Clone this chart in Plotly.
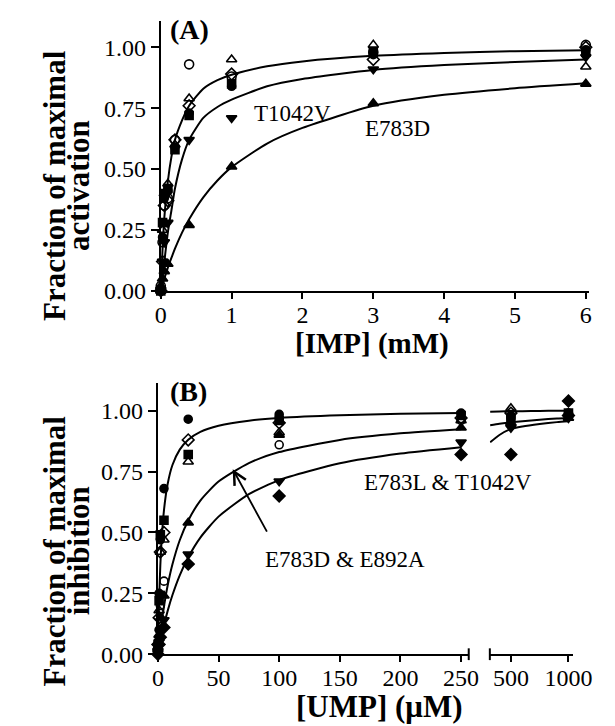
import plotly.graph_objects as go

W, H = 615, 726
FONT = '"Liberation Serif", "Times New Roman", Times, serif'

# ---------------- Panel A data (IMP, mM) ----------------
a_x = [0, 0.025, 0.05, 0.1, 0.2, 0.4, 1, 3, 6]
a_open_circle = [0.02, 0.20, 0.35, 0.38, 0.62, 0.93, 0.88, 0.98, 1.01]
a_open_tri = [0.00, 0.25, 0.40, 0.44, 0.60, 0.79, 0.95, 1.01, 0.92]
a_open_diam = [0.00, 0.12, 0.35, 0.37, 0.62, 0.76, 0.89, 0.95, 1.00]
a_fill_square = [0.00, 0.28, 0.40, 0.42, 0.58, 0.72, 0.85, 0.98, 0.98]
a_fill_circle = [0.00, 0.22, 0.38, 0.41, 0.59, 0.73, 0.84, 0.97, 0.99]
a_x2 = [0, 0.025, 0.05, 0.1, 0.4, 1, 3, 6]
a_t1042v = [0.00, 0.12, 0.20, 0.28, 0.62, 0.71, 0.91, 0.96]
a_e783d = [0.02, 0.05, 0.08, 0.11, 0.27, 0.51, 0.77, 0.85]

a_curve_x = [0, 0.025, 0.05, 0.1, 0.15, 0.2, 0.3, 0.4, 0.6, 0.8, 1, 1.5, 2, 3, 4, 5, 6]
a_curve_top = [0, 0.17, 0.30, 0.45, 0.55, 0.62, 0.70, 0.76, 0.83, 0.865, 0.887, 0.922, 0.942, 0.965, 0.977, 0.984, 0.988]
a_curve_mid = [0, 0.06, 0.12, 0.24, 0.33, 0.42, 0.54, 0.62, 0.71, 0.755, 0.785, 0.84, 0.87, 0.907, 0.927, 0.94, 0.95]
a_curve_low = [0, 0.025, 0.05, 0.095, 0.135, 0.173, 0.239, 0.294, 0.384, 0.453, 0.508, 0.605, 0.669, 0.76, 0.805, 0.832, 0.852]

# ---------------- Panel B data (UMP, uM) ----------------
b_x = [0, 1, 2, 5, 25, 100, 250, 500, 1000]
b_fill_circle = [0.05, 0.25, 0.47, 0.68, 0.965, 0.985, 0.99, 0.98, 0.99]
b_open_diam = [0.04, 0.15, 0.42, 0.50, 0.88, 0.95, 0.97, 0.99, 0.98]
b_fill_square = [0.02, 0.22, 0.49, 0.55, 0.82, 0.96, 0.98, 0.97, 0.99]
b_open_tri = [0.03, 0.18, 0.42, 0.47, 0.79, 0.91, 0.96, 1.01, 0.99]
b_fill_tri = [0.02, 0.08, 0.15, 0.24, 0.54, 0.90, 0.93, 0.95, 0.97]
b_fill_tri_down = [0.01, 0.05, 0.09, 0.14, 0.41, 0.71, 0.87, 0.93, 0.97]
b_fill_diam = [0.00, 0.04, 0.07, 0.11, 0.37, 0.65, 0.82, 0.82, 1.04]
b_x_oc = [0, 1, 2, 5, 100, 250, 500, 1000]
b_open_circle = [0.02, 0.10, 0.20, 0.30, 0.86, 0.96, 0.97, 0.98]

b_curve_x = [0, 1, 2, 3, 5, 8, 12, 18, 25, 35, 50, 75, 100, 150, 200, 250]
b_curve_top = [0, 0.223, 0.365, 0.463, 0.591, 0.698, 0.777, 0.840, 0.881, 0.913, 0.938, 0.959, 0.970, 0.981, 0.987, 0.990]
b_curve_mid = [0, 0.047, 0.089, 0.128, 0.196, 0.281, 0.369, 0.468, 0.549, 0.631, 0.709, 0.785, 0.830, 0.880, 0.907, 0.924]
b_curve_low = [0, 0.026, 0.051, 0.075, 0.119, 0.177, 0.243, 0.324, 0.398, 0.479, 0.565, 0.657, 0.715, 0.784, 0.824, 0.850]
b_curve2_x = [320, 400, 500, 600, 750, 900, 1000]
b_curve2_top = [0.996, 0.997, 0.998, 0.998, 0.999, 1.0, 1.0]
b_curve2_mid = [0.94, 0.946, 0.952, 0.957, 0.963, 0.968, 0.97]
b_curve2_low = [0.87, 0.90, 0.925, 0.935, 0.945, 0.953, 0.957]

fig = go.Figure()


def add_pts(xs, ys, symbol, xa, ya, size=9):
    fig.add_trace(go.Scatter(
        x=xs, y=ys, mode="markers", xaxis=xa, yaxis=ya, cliponaxis=False,
        marker=dict(symbol=symbol, size=size, color="black",
                    line=dict(color="black", width=1.6)),
        hoverinfo="skip"))


def add_line(xs, ys, xa, ya):
    fig.add_trace(go.Scatter(
        x=xs, y=ys, mode="lines", xaxis=xa, yaxis=ya, cliponaxis=False,
        line=dict(color="black", width=2, shape="spline", smoothing=0.6),
        hoverinfo="skip"))


# Panel A
for cy in (a_curve_top, a_curve_mid, a_curve_low):
    add_line(a_curve_x, cy, "x", "y")
add_pts(a_x, a_open_circle, "circle-open", "x", "y")
add_pts(a_x, a_open_tri, "triangle-up-open", "x", "y")
add_pts(a_x, a_open_diam, "diamond-open", "x", "y")
add_pts(a_x, a_fill_square, "square", "x", "y", 8)
add_pts(a_x, a_fill_circle, "circle", "x", "y", 8)
add_pts(a_x2, a_t1042v, "triangle-down", "x", "y")
add_pts(a_x2, a_e783d, "triangle-up", "x", "y")

# Panel B
for cy in (b_curve_top, b_curve_mid, b_curve_low):
    add_line(b_curve_x, cy, "x2", "y2")
for cy in (b_curve2_top, b_curve2_mid, b_curve2_low):
    add_line(b_curve2_x, cy, "x3", "y2")

b_series = [
    (b_x, b_fill_circle, "circle", 8),
    (b_x, b_open_diam, "diamond-open", 9),
    (b_x, b_fill_square, "square", 8),
    (b_x, b_open_tri, "triangle-up-open", 9),
    (b_x, b_fill_tri, "triangle-up", 9),
    (b_x, b_fill_tri_down, "triangle-down", 9),
    (b_x, b_fill_diam, "diamond", 9),
    (b_x_oc, b_open_circle, "circle-open", 8),
]
for xs, ys, sym, sz in b_series:
    lo = [(x, y) for x, y in zip(xs, ys) if x <= 250]
    hi = [(x, y) for x, y in zip(xs, ys) if x > 250]
    add_pts([p[0] for p in lo], [p[1] for p in lo], sym, "x2", "y2", sz)
    add_pts([p[0] for p in hi], [p[1] for p in hi], sym, "x3", "y2", sz)


def px(v):
    return v / W


def py(v):
    return 1 - v / H


axis_common = dict(showline=True, linecolor="black", linewidth=2, mirror=False,
                   ticks="outside", tickcolor="black", tickwidth=2,
                   showgrid=False, zeroline=False,
                   tickfont=dict(family=FONT, size=24, color="black"))
xstyle = dict(ticklen=6, ticklabelstandoff=-5, **axis_common)
ystyle = dict(ticklen=8, tickformat=".2f", tickvals=[0, 0.25, 0.5, 0.75, 1.0], **axis_common)

fig.update_layout(
    width=W, height=H, margin=dict(l=0, r=0, t=0, b=0),
    paper_bgcolor="white", plot_bgcolor="white", showlegend=False,
    font=dict(family=FONT, color="black"),
    xaxis=dict(domain=[px(153), px(599)], range=[0, 6.04], anchor="y",
               tickvals=[0, 1, 2, 3, 4, 5, 6], **xstyle),
    yaxis=dict(domain=[py(288), py(13)], range=[0, 1.109], anchor="x", **ystyle),
    xaxis2=dict(domain=[px(150), px(474)], range=[0, 256.3], anchor="y2",
                tickvals=[0, 50, 100, 150, 200, 250], **xstyle),
    xaxis3=dict(domain=[px(496), px(583)], range=[317, 1042], anchor="y2",
                tickvals=[500, 1000], **xstyle),
    yaxis2=dict(domain=[py(658), py(382)], range=[0, 1.113], anchor="x2", **ystyle),
)

# broken-axis end caps
for xx in (474, 496):
    fig.add_shape(type="line", xref="paper", yref="paper",
                  x0=px(xx), x1=px(xx), y0=py(652), y1=py(664),
                  line=dict(color="black", width=2))

ann = []
bold = dict(family=FONT, size=31, color="black")
reg = dict(family=FONT, size=23, color="black")
ann.append(dict(text="<b>Fraction of maximal</b>", x=px(42), y=py(181), textangle=-90, font=bold))
ann.append(dict(text="<b>activation</b>", x=px(67), y=py(181), textangle=-90, font=bold))
ann.append(dict(text="<b>Fraction of maximal</b>", x=px(42), y=py(553), textangle=-90, font=bold))
ann.append(dict(text="<b>inhibition</b>", x=px(67), y=py(553), textangle=-90, font=bold))
ann.append(dict(text="<b>[IMP] (mM)</b>", x=px(373), y=py(342), font=dict(family=FONT, size=29, color="black")))
ann.append(dict(text="<b>[UMP] (μM)</b>", x=px(380), y=py(711), font=bold))
ann.append(dict(text="<b>(A)</b>", x=px(183), y=py(22), font=dict(family=FONT, size=28, color="black")))
ann.append(dict(text="<b>(B)</b>", x=px(182), y=py(390), font=dict(family=FONT, size=28, color="black")))
ann.append(dict(text="T1042V", x=px(290), y=py(107), font=reg))
ann.append(dict(text="E783D", x=px(400), y=py(123), font=reg))
ann.append(dict(text="E783L &amp; T1042V", x=px(452), y=py(483), font=reg))
ann.append(dict(text="E783D &amp; E892A", x=px(345), y=py(562), font=reg))
for a in ann:
    a.update(xref="paper", yref="paper", showarrow=False, xanchor="center", yanchor="middle")
    fig.add_annotation(**a)

# arrow pointing at the middle curve
fig.add_annotation(x=61.7, y=0.76, xref="x2", yref="y2", ax=35, ay=64,
                   axref="pixel", ayref="pixel", text="", showarrow=True,
                   arrowhead=5, arrowsize=1.4, arrowwidth=1.8, arrowcolor="black")

fig.write_html("out.html")
